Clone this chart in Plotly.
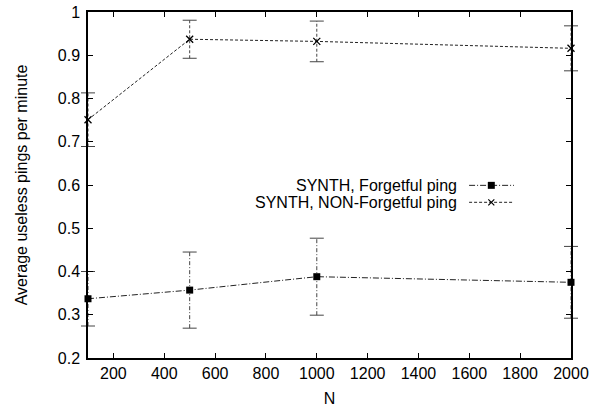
import plotly.graph_objects as go

# ---- data ----
N = [100, 500, 1000, 2000]
forgetful = [0.337, 0.357, 0.388, 0.375]
forgetful_err = [0.063, 0.088, 0.089, 0.083]
nonforgetful = [0.751, 0.937, 0.932, 0.916]
nonforgetful_err = [0.062, 0.044, 0.047, 0.052]
series_names = ["SYNTH, Forgetful ping", "SYNTH, NON-Forgetful ping"]
x_ticks = [200, 400, 600, 800, 1000, 1200, 1400, 1600, 1800, 2000]
y_ticks = [0.2, 0.3, 0.4, 0.5, 0.6, 0.7, 0.8, 0.9, 1.0]
y_tick_labels = ["0.2", "0.3", "0.4", "0.5", "0.6", "0.7", "0.8", "0.9", "1"]

FONT = "Liberation Sans, Arial, sans-serif"
FS = 16
LINE = "#222222"
ERR = "#444444"
DASH_F = "6px,2px,1px,2px"
DASH_NF = "3px,2px"

fig = go.Figure()


def add_errorbars(xs, ys, errs, dash):
    # dashed vertical segments built from the data
    vx, vy = [], []
    for x, y, e in zip(xs, ys, errs):
        vx += [x, x, None]
        vy += [y - e, y + e, None]
    fig.add_trace(go.Scatter(
        x=vx, y=vy, mode="lines", line=dict(color=ERR, width=1, dash=dash),
        showlegend=False, hoverinfo="skip", cliponaxis=False,
    ))
    # caps
    cx, cy = [], []
    for x, y, e in zip(xs, ys, errs):
        cx += [x, x]
        cy += [y - e, y + e]
    fig.add_trace(go.Scatter(
        x=cx, y=cy, mode="markers",
        marker=dict(symbol="line-ew", size=10, color=ERR,
                    line=dict(color=ERR, width=1)),
        showlegend=False, hoverinfo="skip", cliponaxis=False,
    ))


add_errorbars(N, forgetful, forgetful_err, "4px,2px,1px,2px")
add_errorbars(N, nonforgetful, nonforgetful_err, "3px,2px")

fig.add_trace(go.Scatter(
    x=N, y=forgetful, mode="lines+markers", name=series_names[0],
    line=dict(color=LINE, width=1, dash=DASH_F),
    marker=dict(symbol="square", size=7, color="black"),
    showlegend=False, cliponaxis=False,
))
fig.add_trace(go.Scatter(
    x=N, y=nonforgetful, mode="lines+markers", name=series_names[1],
    line=dict(color=LINE, width=1, dash=DASH_NF),
    marker=dict(symbol="x-thin", size=7, color="black",
                line=dict(color="black", width=1.3)),
    showlegend=False, cliponaxis=False,
))

# ---- custom legend (text right, sample on the right, gnuplot style) ----
leg_x0, leg_x1, leg_xm = 0.789, 0.882, 0.835
leg_rows = [0.499, 0.450]
styles = [
    dict(dash=DASH_F, marker=dict(symbol="square", size=7, color="black")),
    dict(dash=DASH_NF, marker=dict(symbol="x-thin", size=6, color="black",
                                   line=dict(color="black", width=1.2))),
]
for name, yy, st in zip(series_names, leg_rows, styles):
    fig.add_trace(go.Scatter(
        x=[leg_x0, leg_x1], y=[yy, yy], mode="lines", xaxis="x2", yaxis="y2",
        line=dict(color=LINE, width=1, dash=st["dash"]), showlegend=False,
        hoverinfo="skip",
    ))
    fig.add_trace(go.Scatter(
        x=[leg_xm], y=[yy], mode="markers", xaxis="x2", yaxis="y2",
        marker=st["marker"], showlegend=False, hoverinfo="skip",
    ))
    fig.add_annotation(
        x=0.766, y=yy, xref="paper", yref="paper", text=name,
        showarrow=False, xanchor="right", yanchor="middle", borderpad=0,
        font=dict(family=FONT, size=FS, color="black"),
    )

axis_common = dict(
    showline=True, linecolor="black", linewidth=1.5, mirror="ticks",
    ticks="inside", ticklen=5, tickwidth=1, tickcolor="black",
    showgrid=False, zeroline=False, automargin=False,
    tickfont=dict(family=FONT, size=FS, color="black"),
)

fig.update_layout(
    width=603, height=412,
    margin=dict(l=88, r=32, t=12, b=54),
    paper_bgcolor="white", plot_bgcolor="white",
    font=dict(family=FONT, size=FS, color="black"),
    xaxis=dict(range=[100, 2000], tickvals=x_ticks,
               title=dict(text="N", font=dict(family=FONT, size=FS), standoff=12),
               **axis_common),
    yaxis=dict(range=[0.2, 1.0], tickvals=y_ticks, ticktext=y_tick_labels,
               ticklabelstandoff=3,
               title=dict(text="Average useless pings per minute",
                          font=dict(family=FONT, size=FS), standoff=26),
               **axis_common),
    xaxis2=dict(range=[0, 1], overlaying="x", visible=False),
    yaxis2=dict(range=[0, 1], overlaying="y", visible=False),
)

fig.write_html("out.html")
